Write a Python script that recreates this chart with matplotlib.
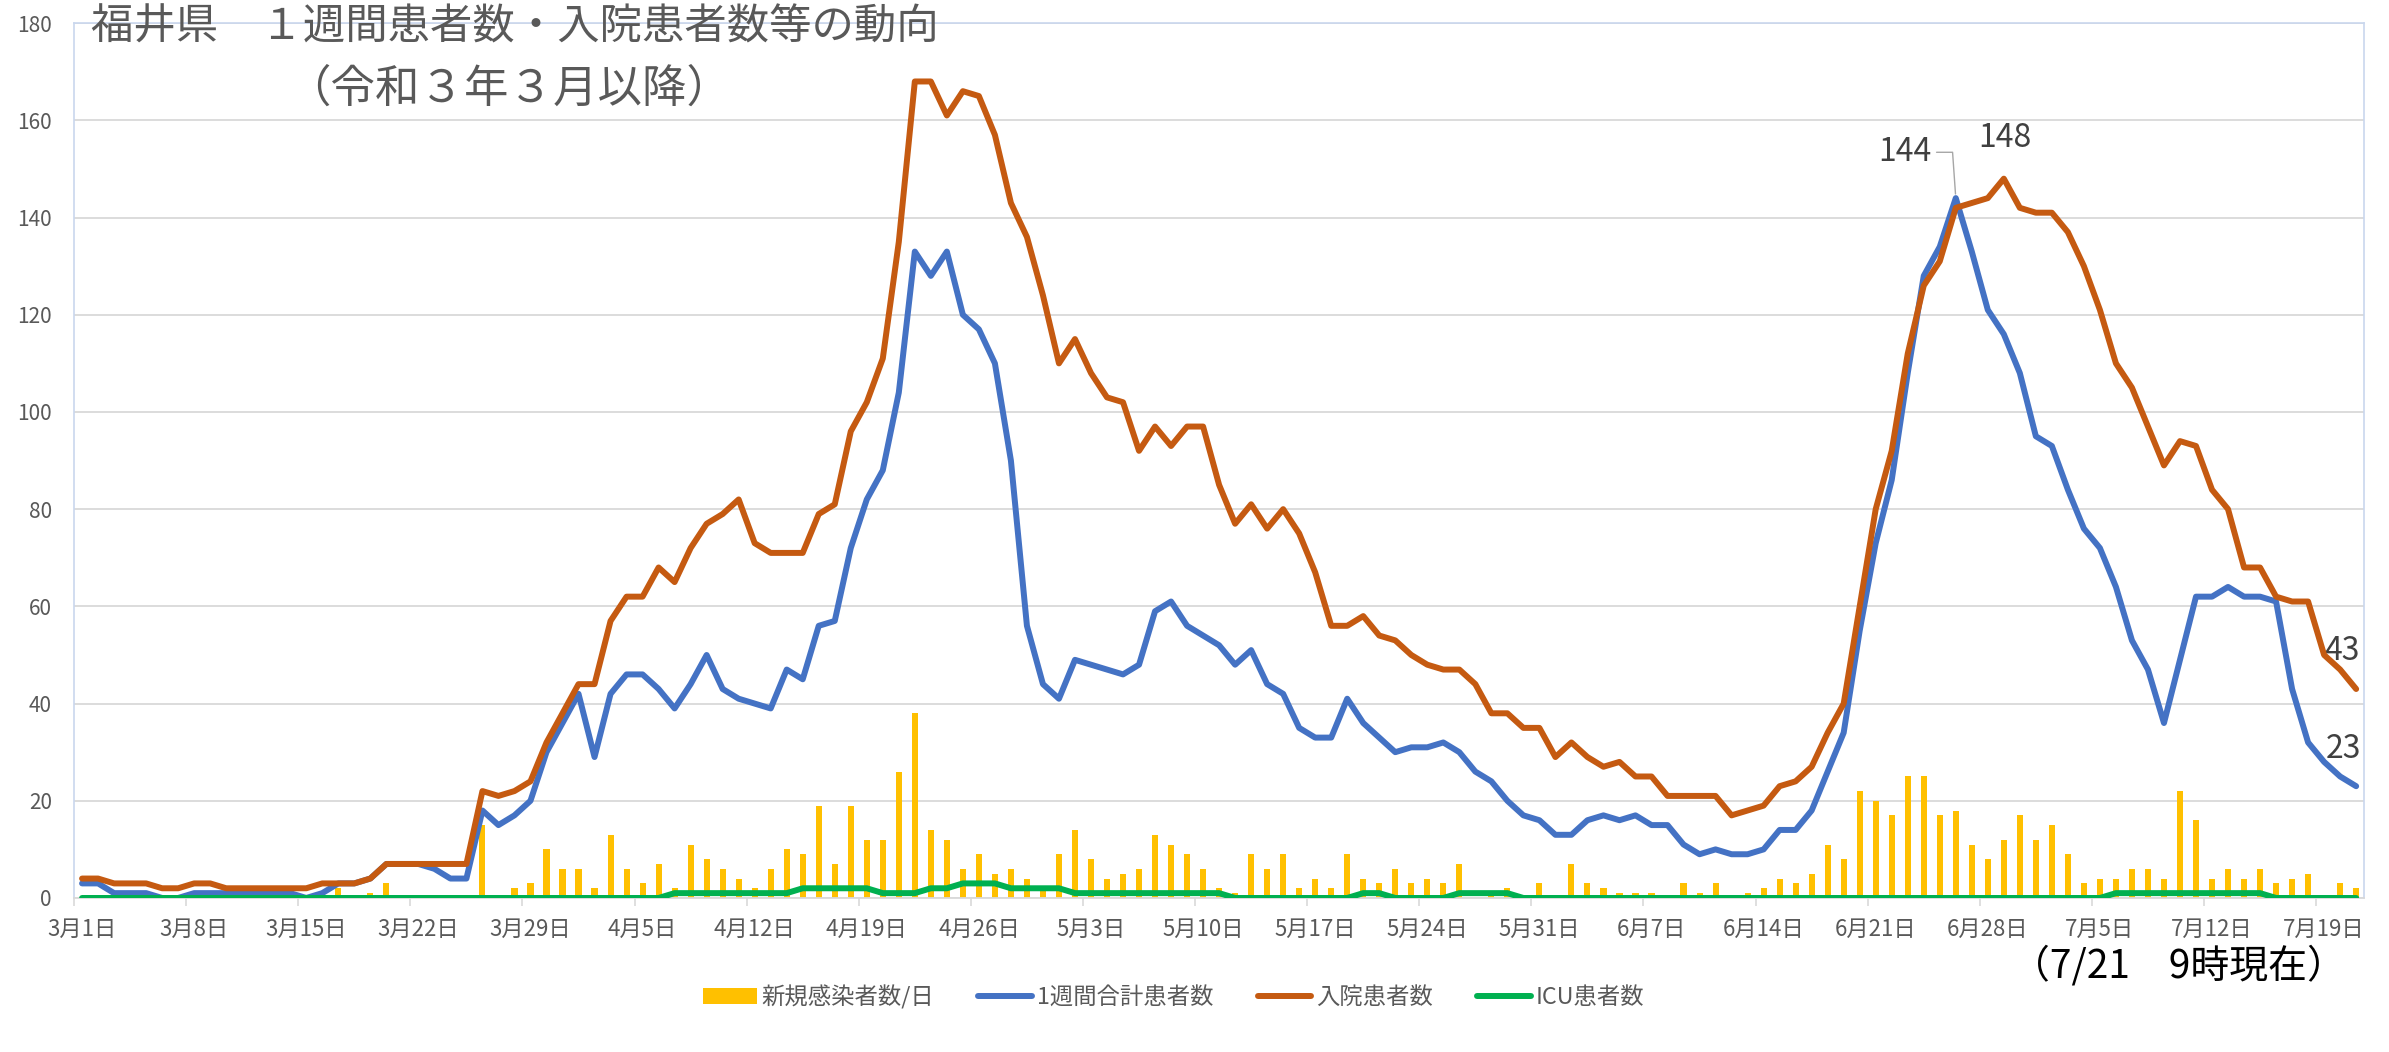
import numpy as np
import matplotlib.pyplot as plt
from matplotlib.patches import Patch
from matplotlib.lines import Line2D

plt.rcParams['font.family'] = ['Noto Sans CJK JP', 'DejaVu Sans']

# 3/1 ～ 7/21 (143日)
new_cases = [
    0, 0, 0, 0, 0, 0, 0, 1, 0, 0, 0, 0, 0, 0, 0, 1,
    2, 0, 1, 3, 0, 0, 0, 0, 0,
    15, 0, 2, 3, 10, 6, 6, 2, 13, 6, 3, 7, 2, 11, 8, 6, 4, 2, 6, 10,
    9, 19, 7, 19, 12, 12, 26, 38, 14, 12, 6, 9, 5, 6, 4, 2, 9, 14, 8, 4,
    5, 6, 13, 11, 9, 6, 2, 1, 9, 6, 9, 2, 4, 2, 9, 4, 3, 6, 3, 4, 3, 7, 0, 1, 2, 0, 3,
    0, 7, 3, 2, 1, 1, 1, 0, 3, 1, 3, 0, 1, 2, 4, 3, 5, 11, 8,
    22, 20, 17, 25, 25, 17, 18, 11, 8, 12, 17, 12, 15, 9, 3, 4, 4, 6, 6, 4, 22, 16,
    4, 6, 4, 6, 3, 4, 5, 0, 3, 2,
]
weekly = [
    3, 3, 1, 1, 1, 0, 0, 1, 1, 1, 1, 1, 1, 1, 0, 1, 3, 3, 4, 7, 7, 7, 6, 4, 4,
    18, 15, 17, 20, 30, 36, 42, 29, 42, 46, 46, 43, 39, 44, 50, 43, 41, 40, 39, 47,
    45, 56, 57, 72, 82, 88, 104, 133, 128, 133, 120, 117, 110, 90, 56, 44, 41, 49, 48, 47,
    46, 48, 59, 61, 56, 54, 52, 48, 51, 44, 42, 35, 33, 33, 41, 36, 33, 30, 31, 31, 32,
    30, 26, 24, 20, 17, 16,
    13, 13, 16, 17, 16, 17, 15, 15, 11, 9, 10, 9, 9, 10, 14, 14, 18, 26, 34,
    55, 73, 86, 108, 128, 134, 144, 133, 121, 116, 108, 95, 93, 84, 76, 72, 64, 53, 47,
    36, 49, 62, 62, 64, 62, 62, 61, 43, 32, 28, 25, 23,
]
inpatients = [
    4, 4, 3, 3, 3, 2, 2, 3, 3, 2, 2, 2, 2, 2, 2, 3, 3, 3, 4, 7, 7, 7, 7, 7, 7,
    22, 21, 22, 24, 32, 38, 44, 44, 57, 62, 62, 68, 65, 72, 77, 79, 82, 73, 71, 71, 71, 79, 81,
    96, 102, 111, 135, 168, 168, 161, 166, 165, 157, 143, 136, 124, 110, 115, 108, 103, 102,
    92, 97, 93, 97, 97, 85, 77, 81, 76, 80, 75,
    67, 56, 56, 58, 54, 53, 50, 48, 47, 47, 44, 38, 38, 35, 35,
    29, 32, 29, 27, 28, 25, 25, 21, 21, 21, 21, 17, 18, 19, 23, 24, 27, 34, 40,
    60, 80, 92, 112, 126, 131, 142, 143, 144, 148, 142, 141, 141, 137, 130, 121, 110, 105,
    97, 89, 94, 93, 84, 80, 68, 68, 62, 61, 61, 50, 47, 43,
]
icu = [
    0, 0, 0, 0, 0, 0, 0, 0, 0, 0, 0, 0, 0, 0, 0, 0, 0, 0, 0, 0,
    0, 0, 0, 0, 0, 0, 0, 0, 0, 0, 0, 0, 0, 0, 0, 0, 0,
    1, 1, 1, 1, 1, 1, 1, 1, 2, 2, 2, 2, 2, 1, 1, 1, 2, 2, 3, 3, 3, 2, 2, 2, 2,
    1, 1, 1, 1, 1, 1, 1, 1, 1, 1, 0, 0, 0, 0, 0, 0, 0, 0, 1, 1, 0, 0, 0, 0, 1, 1, 1, 1,
    0, 0, 0, 0, 0, 0, 0, 0, 0, 0, 0, 0, 0, 0, 0, 0, 0, 0, 0, 0,
    0, 0, 0, 0, 0, 0, 0, 0, 0, 0, 0, 0, 0, 0, 0, 0, 0,
    1, 1, 1, 1, 1, 1, 1, 1, 1, 1, 0, 0, 0, 0, 0, 0,
]
tick_labels = ['3月1日', '3月8日', '3月15日', '3月22日', '3月29日', '4月5日', '4月12日',
               '4月19日', '4月26日', '5月3日', '5月10日', '5月17日', '5月24日', '5月31日',
               '6月7日', '6月14日', '6月21日', '6月28日', '7月5日', '7月12日', '7月19日']
legend_labels = ['新規感染者数/日', '1週間合計患者数', '入院患者数', 'ICU患者数']

c_bar = '#FFC000'
c_week = '#4472C4'
c_hosp = '#C55A11'
c_icu = '#00B050'
gray = '#595959'

fig = plt.figure(figsize=(23.89, 10.52), dpi=100)
ax = fig.add_axes([0.031, 0.1464, 0.9586, 0.8316])

x = np.arange(len(new_cases))
ax.bar(x, new_cases, width=0.38, color=c_bar, zorder=2)
line_kw = dict(lw=4.3, solid_capstyle='round', solid_joinstyle='round')
ax.plot(x, weekly, color=c_week, zorder=3, **line_kw)
ax.plot(x, inpatients, color=c_hosp, zorder=4, **line_kw)
ax.plot(x, icu, color=c_icu, zorder=5, **line_kw)

ax.set_xlim(-0.5, len(x) - 0.5)
ax.set_ylim(0, 180)
ax.set_yticks(np.arange(0, 181, 20))
ax.set_xticks(np.arange(0, len(x), 7))
ax.set_xticklabels(tick_labels)
ax.set_xticks(np.arange(-0.5, len(x), 7), minor=True)

ax.yaxis.grid(True, color='#D9D9D9', lw=1.3)
ax.set_axisbelow(True)
for s in ['left', 'right', 'top']:
    ax.spines[s].set_color('#C9D7EE')
    ax.spines[s].set_linewidth(1.2)
ax.spines['bottom'].set_color('#D9D9D9')
ax.spines['bottom'].set_linewidth(1.3)

ax.tick_params(axis='y', length=0, labelsize=15, labelcolor=gray, pad=16)
ax.tick_params(axis='x', which='major', length=0, labelsize=16, labelcolor=gray, pad=14)
ax.tick_params(axis='x', which='minor', length=6, color='#D9D9D9', width=1.2)

# データラベル
lab_kw = dict(textcoords='offset points', ha='center', va='center', fontsize=23, color='#404040')
ax.annotate('144', xy=(117, weekly[117]), xytext=(-37, 33),
            arrowprops=dict(arrowstyle='-', color='#A6A6A6', lw=1, shrinkA=2, shrinkB=3,
                            relpos=(1, 0.5), connectionstyle='angle,angleA=0,angleB=94,rad=0'),
            **lab_kw)
ax.annotate('148', xy=(120, inpatients[120]), xytext=(1, 29), **lab_kw)
ax.annotate('43', xy=(142, inpatients[142]), xytext=(-10, 27), **lab_kw)
ax.annotate('23', xy=(142, weekly[142]), xytext=(-9, 27), **lab_kw)

# タイトル
fig.text(0.0381, 0.9739, '福井県　１週間患者数・入院患者数等の動向', fontsize=30.5,
         color=gray, ha='left', va='center')
fig.text(0.1198, 0.916, '（令和３年３月以降）', fontsize=32, color=gray, ha='left', va='center')

fig.text(0.912, 0.0817, '（7/21　9時現在）', fontsize=28, color='black', ha='center', va='center')

handles = [Patch(facecolor=c_bar),
           Line2D([], [], color=c_week, **line_kw),
           Line2D([], [], color=c_hosp, **line_kw),
           Line2D([], [], color=c_icu, **line_kw)]
fig.legend(handles, legend_labels, loc='center', bbox_to_anchor=(0.4912, 0.052), ncol=4,
           frameon=False, fontsize=16.8, handlelength=2.3, handleheight=0.65,
           handletextpad=0.2, columnspacing=1.9, labelcolor=gray)

fig.savefig('out.png', dpi=100)
